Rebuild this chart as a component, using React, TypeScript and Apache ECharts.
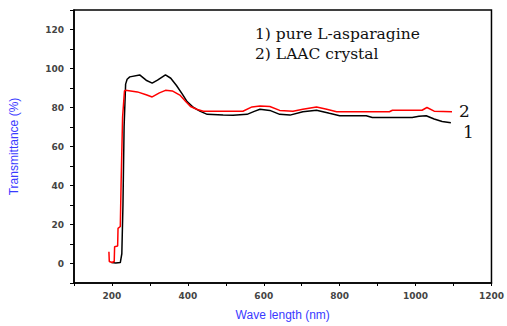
import React, { useEffect, useRef } from "react";
import * as echarts from "echarts";

const seriesNames = ["1) pure L-asparagine", "2) LAAC crystal"];

// [wavelength (nm), transmittance (%)]
const pureLAsparagine: [number, number][] = [
  [199, 0.5], [210, 0.3], [222, 0.5], [226, 5], [229, 30], [232, 70], [236, 92], [240, 94.5],
  [247, 95.7], [273, 96.7], [290, 94], [306, 92.5], [320, 94], [341, 96.7], [355, 95],
  [370, 91.3], [385, 87], [398, 83], [415, 80], [433, 78], [451, 76.5], [493, 76.1],
  [519, 76], [556, 76.5], [575, 78], [590, 79.1], [616, 78.5], [642, 76.5], [669, 76.1],
  [703, 77.8], [739, 78.6], [773, 77], [800, 75.8], [870, 75.8], [886, 74.9], [991, 74.9],
  [1009, 75.5], [1028, 75.8], [1049, 74.1], [1070, 72.8], [1093, 72.2],
];

const laacCrystal: [number, number][] = [
  [192, 6], [193, 1], [200, 0.5], [206, 1], [207, 8.6], [215, 9], [216, 18], [222, 19],
  [224, 40], [228, 75], [233, 88.5], [236, 88.8], [267, 88], [290, 86.5], [306, 85.4],
  [325, 87.5], [341, 88.8], [359, 88.5], [380, 86.2], [395, 83], [407, 80.5], [425, 79],
  [441, 78.1], [545, 78.1], [569, 80.3], [590, 80.8], [616, 80.5], [642, 78.5], [677, 78.1],
  [703, 79.1], [739, 80.3], [766, 79.1], [792, 77.8], [931, 77.8], [939, 78.6], [1017, 78.6],
  [1030, 80], [1049, 78.1], [1096, 77.8],
];

const xMin = 100, xMax = 1200, xStep = 100;
const yMin = -10, yMax = 130, yStep = 10;

export default function App() {
  const ref = useRef<HTMLDivElement>(null);
  useEffect(() => {
    const chart = echarts.init(ref.current!, null, { renderer: "svg" });
    const axisLabel = {
      fontSize: 9,
      fontWeight: "bold" as const,
      color: "#444",
      fontFamily: "DejaVu Sans",
    };
    chart.setOption({
      animation: false,
      backgroundColor: "#fff",
      grid: { left: 73, top: 10, right: 14, bottom: 38, show: true, borderColor: "#000", borderWidth: 1.5, backgroundColor: "transparent" },
      xAxis: {
        type: "value",
        min: xMin,
        max: xMax,
        interval: xStep,
        name: "Wave length (nm)",
        nameLocation: "middle",
        nameGap: 26,
        nameTextStyle: { color: "#3a3aff", fontSize: 12, fontFamily: "Liberation Sans" },
        axisLine: { onZero: false, lineStyle: { color: "#000", width: 1.5 } },
        axisTick: { length: 3, lineStyle: { color: "#000" } },
        splitLine: { show: false },
        axisLabel: {
          ...axisLabel,
          margin: 8,
          formatter: (v: number) => (v % 200 === 0 ? String(v) : ""),
        },
      },
      yAxis: {
        type: "value",
        min: yMin,
        max: yMax,
        interval: yStep,
        name: "Transmittance (%)",
        nameLocation: "middle",
        nameGap: 54,
        nameRotate: 90,
        nameTextStyle: { color: "#3a3aff", fontSize: 12, fontFamily: "Liberation Sans" },
        axisLine: { onZero: false, lineStyle: { color: "#000", width: 1.5 } },
        axisTick: { length: 4, lineStyle: { color: "#000" } },
        splitLine: { show: false },
        axisLabel: {
          ...axisLabel,
          margin: 10,
          formatter: (v: number) => (v >= 0 && v <= 120 && v % 20 === 0 ? String(v) : ""),
        },
      },
      series: [
        {
          name: seriesNames[0],
          type: "line",
          data: pureLAsparagine,
          symbol: "none",
          lineStyle: { color: "#000", width: 1.5 },
          z: 2,
        },
        {
          name: seriesNames[1],
          type: "line",
          data: laacCrystal,
          symbol: "none",
          lineStyle: { color: "#ff0000", width: 1.5 },
          z: 3,
        },
      ],
      graphic: [
        { type: "text", left: 255, top: 26, style: { text: seriesNames[0], font: "15.5px 'DejaVu Serif'", fill: "#111" } },
        { type: "text", left: 255, top: 46, style: { text: seriesNames[1], font: "15.5px 'DejaVu Serif'", fill: "#111" } },
        { type: "text", left: 459, top: 102, style: { text: "2", font: "17px 'DejaVu Serif'", fill: "#111" } },
        { type: "text", left: 463, top: 123, style: { text: "1", font: "17px 'DejaVu Serif'", fill: "#111" } },
      ],
    });
    return () => chart.dispose();
  }, []);
  return <div ref={ref} style={{ width: 507, height: 326, position: "fixed", left: 0, top: 0 }} />;
}
